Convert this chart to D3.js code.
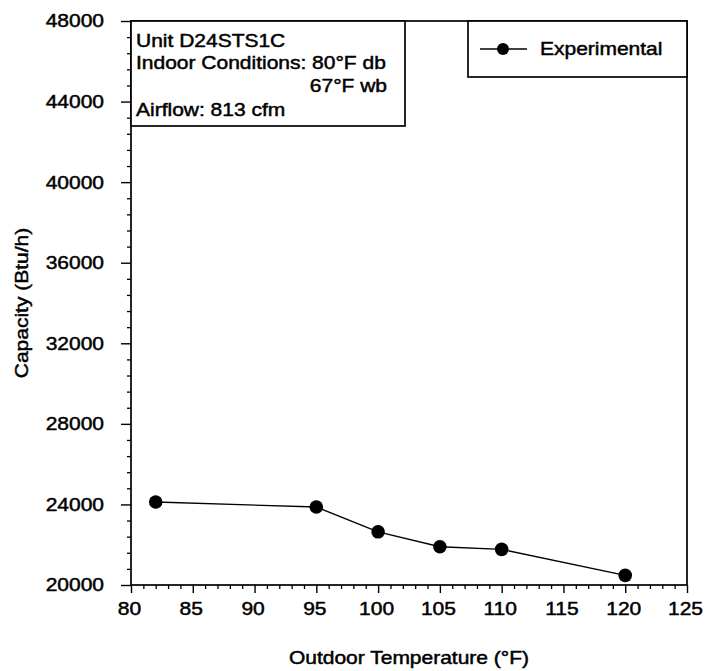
<!DOCTYPE html>
<html>
<head>
<meta charset="utf-8">
<script src="https://cdn.jsdelivr.net/npm/d3@7"></script>
<style>
  html, body { margin: 0; padding: 0; background: #fff; }
  svg { display: block; }
  text { font-family: "Liberation Sans", Arial, Helvetica, sans-serif; fill: #000; stroke: #000; stroke-width: 0.45px; }
</style>
</head>
<body>
<script>
// Measured capacity of unit D24STS1C against outdoor dry-bulb temperature
const tempF = [82, 95, 100, 105, 110, 120];
const capacity = [24120, 23870, 22640, 21900, 21770, 20480];

const xTicks = [80, 85, 90, 95, 100, 105, 110, 115, 120, 125];
const yTicks = [20000, 24000, 28000, 32000, 36000, 40000, 44000, 48000];

const seriesName = "Experimental";
const infoLines = ["Unit D24STS1C", "Indoor Conditions: 80°F db", "67°F wb", "Airflow: 813 cfm"];
const xTitle = "Outdoor Temperature (°F)";
const yTitle = "Capacity (Btu/h)";

const W = 709, H = 671;
const m = { left: 131, right: 22, top: 21, bottom: 86 };
const FS = 17.5;     // font size
const SX = 1.2;      // horizontal stretch of the lettering

const svg = d3.select("body").append("svg").attr("width", W).attr("height", H);

const x = d3.scaleLinear().domain([80, 125]).range([m.left, W - m.right]);
const y = d3.scaleLinear().domain([20000, 48000]).range([H - m.bottom, m.top]);

// stretched text helper: places text at (px,py) with optional rotation
function label(g, str, px, py, anchor, rot) {
  return g.append("text")
    .attr("transform", `translate(${px},${py})` + (rot ? ` rotate(${rot})` : "") + ` scale(${SX},1)`)
    .attr("text-anchor", anchor || "start")
    .style("font-size", FS + "px")
    .text(str);
}

// minor ticks
const xMinor = d3.range(80, 125.001, 1).filter(v => v % 5 !== 0);
const yMinor = d3.range(20000, 48001, 800).filter(v => v % 4000 !== 0);

svg.append("g")
  .attr("transform", `translate(0,${y(20000)})`)
  .call(d3.axisBottom(x).tickValues(xMinor).tickSize(4).tickFormat(""))
  .call(g => g.select(".domain").remove())
  .selectAll("line").attr("stroke", "#000").attr("stroke-width", 1.3);

svg.append("g")
  .attr("transform", `translate(${x(80)},0)`)
  .call(d3.axisLeft(y).tickValues(yMinor).tickSize(4).tickFormat(""))
  .call(g => g.select(".domain").remove())
  .selectAll("line").attr("stroke", "#000").attr("stroke-width", 1.3);

// major ticks and labels
const gx = svg.append("g")
  .attr("transform", `translate(0,${y(20000)})`)
  .call(d3.axisBottom(x).tickValues(xTicks).tickSize(8).tickFormat(d3.format("d")))
  .call(g => g.select(".domain").remove());
gx.selectAll("line").attr("stroke", "#000").attr("stroke-width", 1.4);
gx.selectAll("text")
  .attr("y", 0).attr("dy", 0)
  .attr("transform", `translate(-2,30) scale(${SX},1)`)
  .style("font-size", FS + "px");

const gy = svg.append("g")
  .attr("transform", `translate(${x(80)},0)`)
  .call(d3.axisLeft(y).tickValues(yTicks).tickSize(10).tickFormat(d3.format("d")))
  .call(g => g.select(".domain").remove());
gy.selectAll("line").attr("stroke", "#000").attr("stroke-width", 1.4);
gy.selectAll("text")
  .attr("x", 0).attr("dy", "0.34em")
  .attr("transform", `translate(-27,0) scale(${SX},1)`)
  .style("font-size", FS + "px");

// plot frame
svg.append("rect")
  .attr("x", x(80)).attr("y", y(48000))
  .attr("width", x(125) - x(80)).attr("height", y(20000) - y(48000))
  .attr("fill", "none").attr("stroke", "#000").attr("stroke-width", 1.7);

// data line and markers
const pts = tempF.map((t, i) => [t, capacity[i]]);
svg.append("path")
  .datum(pts)
  .attr("d", d3.line().x(d => x(d[0])).y(d => y(d[1])))
  .attr("fill", "none").attr("stroke", "#000").attr("stroke-width", 1.4);
svg.append("g").selectAll("circle").data(pts).join("circle")
  .attr("cx", d => x(d[0])).attr("cy", d => y(d[1])).attr("r", 6.8)
  .attr("fill", "#000");

// axis titles
label(svg, xTitle, (x(80) + x(125)) / 2, 664, "middle");
label(svg, yTitle, 28, (y(20000) + y(48000)) / 2, "middle", -90);

// unit information box
const info = svg.append("g");
info.append("rect")
  .attr("x", x(80)).attr("y", y(48000))
  .attr("width", 405 - x(80)).attr("height", 126 - y(48000))
  .attr("fill", "#fff").attr("stroke", "#000").attr("stroke-width", 1.7);
label(info, infoLines[0], x(80) + 5, 47);
label(info, infoLines[1], x(80) + 5, 69);
label(info, infoLines[2], 387, 92, "end");
label(info, infoLines[3], x(80) + 5, 116);

// legend
const lg = svg.append("g");
lg.append("rect")
  .attr("x", 468).attr("y", y(48000))
  .attr("width", x(125) - 468).attr("height", 56)
  .attr("fill", "#fff").attr("stroke", "#000").attr("stroke-width", 1.7);
lg.append("line")
  .attr("x1", 480).attr("x2", 527).attr("y1", 49).attr("y2", 49)
  .attr("stroke", "#000").attr("stroke-width", 1.4);
lg.append("circle").attr("cx", 503).attr("cy", 49).attr("r", 6).attr("fill", "#000");
label(lg, seriesName, 540, 55);
</script>
</body>
</html>
